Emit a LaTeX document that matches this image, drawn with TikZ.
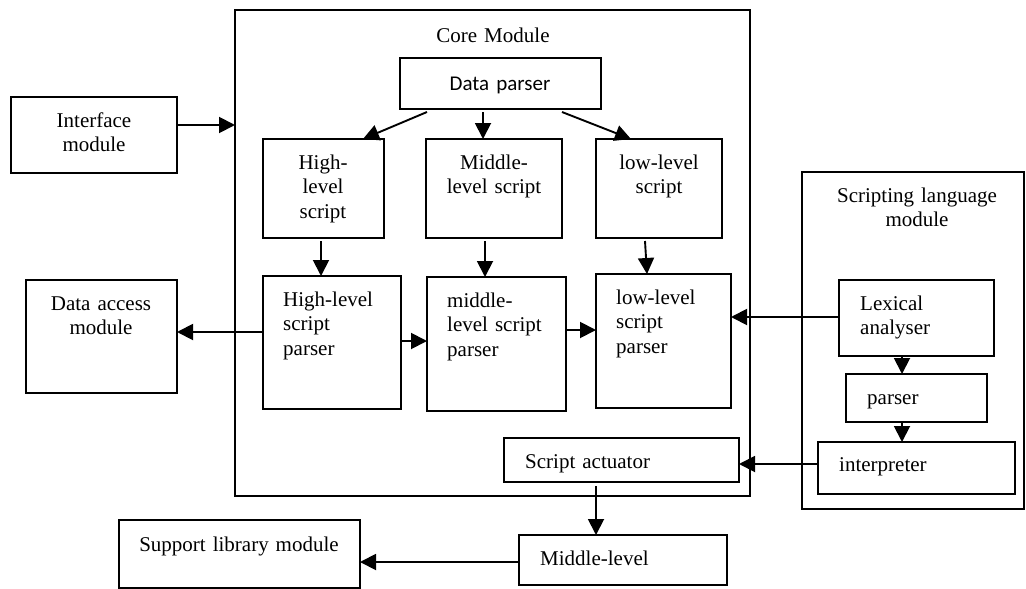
\documentclass[tikz,border=0pt]{standalone}
\usepackage{fontspec}
\setmainfont{Liberation Serif}
\newfontfamily\calib{Carlito}
\usetikzlibrary{arrows.meta,calc,fit}
\begin{document}
\begin{tikzpicture}[x=1pt,y=-1pt,
  box/.style={draw,line width=1.6pt,inner sep=0pt,outer sep=0pt},
  arr/.style={line width=1.9pt,-{Triangle[length=16pt,width=16pt]}},
  txt/.style={inner sep=0pt,font=\fontsize{21}{24.5}\selectfont},
  ctxt/.style={txt,anchor=base,align=center,text width=180pt},
  ltxt/.style={txt,anchor=base west,align=left,text width=150pt}]
\useasboundingbox (0,0) rectangle (1026,589);
% boxes
\node[box,fit={(235,10) (750,496)}] (core) {};
\node[box,fit={(400,58) (601,109)}] (dp) {};
\node[box,fit={(11,97) (177,173)}] (iface) {};
\node[box,fit={(263,139) (384,238)}] (hls) {};
\node[box,fit={(426,139) (562,238)}] (mls) {};
\node[box,fit={(596,139) (722,238)}] (lls) {};
\node[box,fit={(263,276) (401,409)}] (hlp) {};
\node[box,fit={(427,277) (566,411)}] (mlp) {};
\node[box,fit={(596,274) (731,408)}] (llp) {};
\node[box,fit={(26,280) (177,393)}] (dam) {};
\node[box,fit={(802,172) (1024,509)}] (slm) {};
\node[box,fit={(839,280) (994,356)}] (lex) {};
\node[box,fit={(846,374) (987,422)}] (par) {};
\node[box,fit={(818,442) (1015,494)}] (interp) {};
\node[box,fit={(504,438) (739,482)}] (act) {};
\node[box,fit={(519,535) (727,585)}] (mid) {};
\node[box,fit={(119,520) (360,588)}] (sup) {};
% texts
\node[ctxt] (tcore) at (493,42) {Core Module};
\node[ctxt,font=\calib\fontsize{21}{24.5}\selectfont] (tdp) at (500,90) {Data parser};
\node[ctxt] (tiface) at (94,127) {Interface\\module};
\node[ctxt] (thls) at (323,169) {High-\\level\\script};
\node[ctxt] (tmls) at (494,169) {Middle-\\level script};
\node[ctxt] (tlls) at (659,169) {low-level\\script};
\node[ltxt] (thlp) at (283,306) {High-level\\script\\parser};
\node[ltxt] (tmlp) at (447,307) {middle-\\level script\\parser};
\node[ltxt] (tllp) at (616,304) {low-level\\script\\parser};
\node[ctxt] (tdam) at (101,310) {Data access\\module};
\node[ctxt] (tslm) at (917,202) {Scripting language\\module};
\node[ltxt] (tlex) at (860,310) {Lexical\\analyser};
\node[ltxt] (tpar) at (867,404) {parser};
\node[ltxt] (tinterp) at (839,471) {interpreter};
\node[ltxt] (tact) at (525,468) {Script actuator};
\node[ltxt] (tmid) at (540,565) {Middle-level};
\node[ctxt,text width=260pt] (tsup) at (239,551) {Support library module};
% connectors
\draw[arr] ($(iface.north east)+(0,28)$) -- ($(core.north west)+(0,115)$);
\draw[arr] ($(dp.south west)+(27,3)$) -- ($(hls.north west)+(100,0)$);
\draw[arr] ($(dp.south west)+(83,3)$) -- ($(mls.north west)+(57,0)$);
\draw[arr] ($(dp.south east)+(-39,3)$) -- ($(lls.north west)+(35,0)$);
\draw[arr] ($(hls.south west)+(58,3)$) -- ($(hlp.north west)+(58,0)$);
\draw[arr] ($(mls.south west)+(59,3)$) -- ($(mlp.north west)+(58,0)$);
\draw[arr] ($(lls.south west)+(49,3)$) -- ($(llp.north west)+(51,0)$);
\draw[arr] ($(hlp.north west)+(0,56)$) -- ($(dam.north east)+(0,52)$);
\draw[arr] ($(hlp.north east)+(0,65)$) -- ($(mlp.north west)+(0,64)$);
\draw[arr] ($(mlp.north east)+(0,53)$) -- ($(llp.north west)+(0,56)$);
\draw[arr] ($(lex.north west)+(0,37)$) -- ($(llp.north east)+(0,43)$);
\draw[arr] ($(lex.south west)+(63,0)$) -- ($(par.north west)+(56,0)$);
\draw[arr] ($(par.south west)+(56,0)$) -- ($(interp.north west)+(84,0)$);
\draw[arr] ($(interp.north west)+(0,22)$) -- ($(act.north east)+(0,26)$);
\draw[arr] ($(act.south west)+(92,4)$) -- ($(mid.north west)+(77,0)$);
\draw[arr] ($(mid.north west)+(0,27)$) -- ($(sup.north east)+(0,42)$);
\end{tikzpicture}
\end{document}
